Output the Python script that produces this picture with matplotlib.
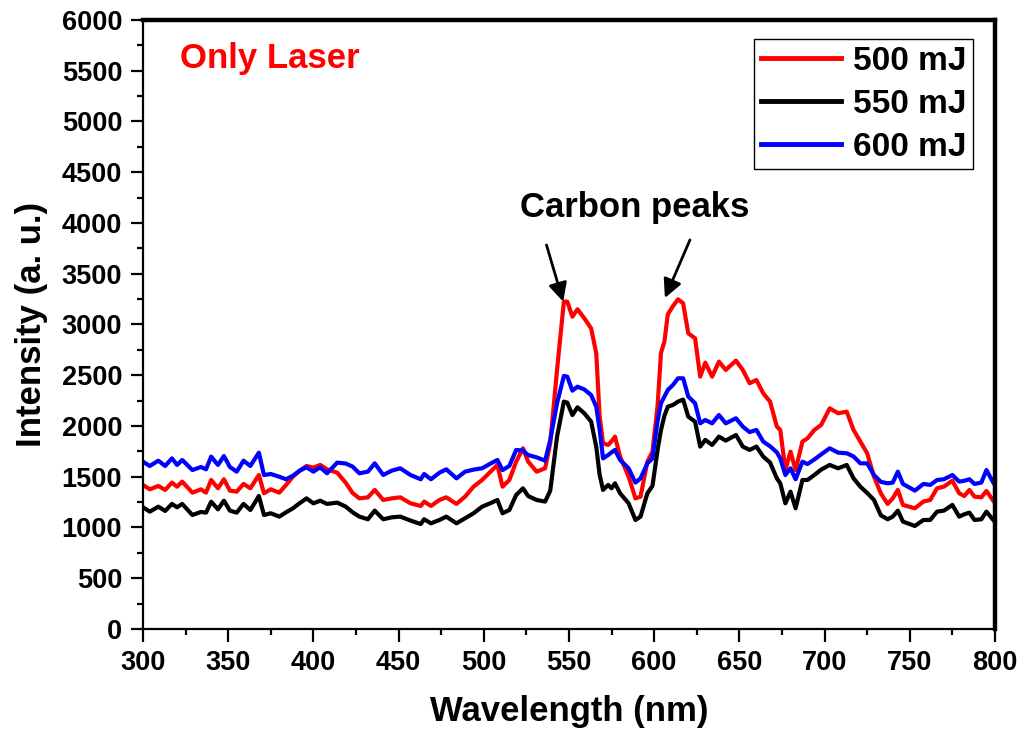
import numpy as np
import matplotlib
matplotlib.use('Agg')
import matplotlib.pyplot as plt

plt.rcParams['font.family'] = ['Liberation Sans', 'DejaVu Sans']
plt.rcParams['font.weight'] = 'bold'

# wavelength grid (nm)
wl = [300, 304, 309, 313, 317, 320, 323, 329, 334, 337,
      340, 344, 347.5, 351, 355, 359, 363, 368, 371, 375,
      380, 384, 388, 392, 396, 400, 404, 408, 414, 419,
      423, 427, 432, 436, 441, 446, 451, 457, 463, 465,
      469, 474, 478, 484, 489, 494, 499, 504, 508, 511,
      515, 519, 523, 526, 531, 536, 539, 543, 547, 549,
      552, 555, 559, 563, 566, 568, 570, 573, 575, 577,
      580, 585, 589, 592, 596, 599, 602, 604, 606, 608,
      611, 614, 617, 620, 624, 627, 630, 634, 638, 642,
      648, 652, 656, 660, 664, 668, 672, 674, 677, 680,
      683, 687, 690, 694, 698, 703, 708, 713, 717, 721,
      725, 729, 733, 737, 740, 743, 746, 753, 758, 762,
      766, 770, 775, 779, 782, 785, 788, 792, 795, 799]

i500 = [1419, 1376, 1409, 1370, 1442, 1402, 1452, 1343, 1376, 1343,
        1468, 1386, 1475, 1363, 1353, 1429, 1386, 1517, 1337, 1376,
        1343, 1420, 1501, 1560, 1606, 1590, 1616, 1573, 1540, 1440,
        1340, 1287, 1297, 1370, 1271, 1287, 1297, 1238, 1212, 1255,
        1212, 1271, 1297, 1232, 1304, 1402, 1468, 1550, 1616, 1402,
        1468, 1648, 1780, 1650, 1550, 1583, 1830, 2552, 3225, 3225,
        3077, 3150, 3061, 2962, 2716, 2092, 1830, 1813, 1850, 1895,
        1698, 1501, 1287, 1304, 1648, 1747, 2200, 2720, 2830, 3100,
        3180, 3248, 3209, 2913, 2864, 2486, 2624, 2486, 2634, 2552,
        2644, 2552, 2421, 2453, 2322, 2240, 1994, 1961, 1566, 1747,
        1566, 1846, 1879, 1961, 2010, 2174, 2125, 2141, 1961, 1846,
        1731, 1501, 1337, 1232, 1287, 1370, 1222, 1189, 1255, 1271,
        1386, 1402, 1461, 1337, 1310, 1370, 1304, 1297, 1360, 1264]

i550 = [1199, 1156, 1205, 1163, 1232, 1199, 1232, 1123, 1153, 1146,
        1254, 1179, 1264, 1166, 1146, 1232, 1172, 1310, 1123, 1140,
        1107, 1150, 1189, 1240, 1287, 1238, 1264, 1232, 1245, 1205,
        1150, 1107, 1081, 1166, 1081, 1100, 1107, 1068, 1034, 1081,
        1041, 1074, 1107, 1041, 1090, 1140, 1205, 1240, 1271, 1140,
        1172, 1320, 1386, 1310, 1271, 1255, 1363, 1895, 2240, 2230,
        2108, 2184, 2125, 2043, 1797, 1517, 1370, 1419, 1386, 1435,
        1337, 1238, 1074, 1107, 1337, 1410, 1764, 1961, 2100, 2190,
        2207, 2240, 2260, 2092, 2043, 1797, 1863, 1813, 1895, 1856,
        1911, 1797, 1764, 1797, 1698, 1640, 1484, 1435, 1238, 1353,
        1189, 1468, 1468, 1517, 1570, 1616, 1583, 1616, 1484, 1402,
        1340, 1271, 1120, 1081, 1107, 1166, 1058, 1015, 1074, 1074,
        1156, 1166, 1222, 1107, 1130, 1146, 1074, 1081, 1156, 1074]

i600 = [1648, 1606, 1658, 1606, 1681, 1616, 1665, 1566, 1596, 1573,
        1698, 1616, 1704, 1596, 1550, 1658, 1606, 1737, 1517, 1527,
        1500, 1475, 1510, 1560, 1593, 1550, 1593, 1534, 1639, 1630,
        1600, 1534, 1550, 1632, 1517, 1560, 1583, 1517, 1475, 1527,
        1475, 1540, 1573, 1484, 1550, 1570, 1583, 1630, 1665, 1566,
        1606, 1764, 1757, 1714, 1691, 1658, 1862, 2224, 2493, 2486,
        2348, 2387, 2360, 2305, 2190, 1961, 1681, 1714, 1740, 1764,
        1665, 1583, 1442, 1484, 1632, 1681, 2050, 2224, 2289, 2355,
        2404, 2470, 2470, 2290, 2224, 2026, 2059, 2026, 2108, 2026,
        2076, 1994, 1940, 1961, 1846, 1800, 1740, 1681, 1517, 1583,
        1475, 1648, 1625, 1670, 1720, 1780, 1737, 1731, 1700, 1632,
        1632, 1517, 1450, 1435, 1442, 1550, 1429, 1363, 1429, 1419,
        1468, 1475, 1517, 1452, 1460, 1475, 1429, 1442, 1566, 1442]

labels = ['500 mJ', '550 mJ', '600 mJ']
colors = ['#ff0000', '#000000', '#0000ff']

fig = plt.figure(figsize=(10.25, 7.29), dpi=100)
ax = fig.add_axes([0.1395, 0.1372, 0.8312, 0.8354])

for y, lab, c in zip([i500, i550, i600], labels, colors):
    ax.plot(wl, y, color=c, lw=3.0, label=lab, solid_joinstyle='round')

ax.set_xlim(300, 800)
ax.set_ylim(0, 6000)
ax.set_xticks(np.arange(300, 801, 50))
ax.set_xticks(np.arange(325, 800, 50), minor=True)
ax.set_yticks(np.arange(0, 6001, 500))
ax.set_yticks(np.arange(250, 6000, 500), minor=True)
ax.tick_params(which='major', direction='out', length=9, width=1.6,
               labelsize=19.5, pad=6)
ax.tick_params(which='minor', direction='out', length=4.5, width=1.6)
for s in ['left', 'bottom']:
    ax.spines[s].set_linewidth(1.6)
for s in ['top', 'right']:
    ax.spines[s].set_linewidth(3.2)

ax.set_xlabel('Wavelength (nm)', fontsize=25, fontweight='bold', labelpad=14)
ax.set_ylabel('Intensity (a. u.)', fontsize=25, fontweight='bold', labelpad=10)

ax.text(0.043, 0.937, 'Only Laser', color='#ff0000', fontsize=25,
        fontweight='bold', transform=ax.transAxes, va='center', ha='left')

ax.text(588.7, 4148, 'Carbon peaks', fontsize=25, fontweight='bold',
        ha='center', va='center')
arr = dict(arrowstyle='-|>', color='k', lw=2, mutation_scale=28,
           shrinkA=0, shrinkB=0)
ax.annotate('', xy=(546.6, 3225), xytext=(536.8, 3783), arrowprops=arr)
ax.annotate('', xy=(606.3, 3261), xytext=(621.0, 3833), arrowprops=arr)

leg = ax.legend(loc='upper right', bbox_to_anchor=(0.974, 0.969),
                fontsize=24, handlelength=2.4, handletextpad=0.35,
                labelspacing=0.36, borderpad=0.2, borderaxespad=0,
                fancybox=False, framealpha=1)
leg.get_frame().set_edgecolor('k')
leg.get_frame().set_linewidth(1.0)
for line in leg.get_lines():
    line.set_linewidth(3.5)

fig.savefig('out.png', dpi=100)
